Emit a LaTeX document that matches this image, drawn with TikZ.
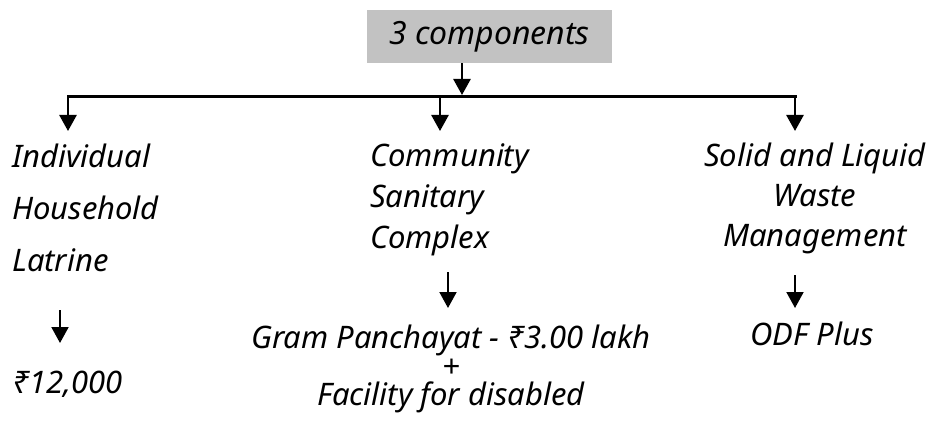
\documentclass[tikz,border=0pt]{standalone}
\usepackage{fontspec}
\setmainfont{Noto Sans}
\usetikzlibrary{arrows.meta}
\definecolor{boxgray}{RGB}{194,194,194}
\tikzset{
  txt/.style={font=\itshape\fontsize{31}{#1}\selectfont, inner sep=0pt},
  txt/.default=36,
  arr/.style={-{Triangle[width=17pt,length=16pt]}, line width=#1},
  arr/.default=2.5pt,
}
\begin{document}
\begin{tikzpicture}[x=1pt,y=-1pt]
\useasboundingbox (0,0) rectangle (935,425);
% top box
\node[fill=boxgray, minimum width=245pt, minimum height=53pt, inner sep=0pt, font=\itshape\fontsize{32}{36}\selectfont] (top) at (489.5,36.5) {3 components};
\coordinate (busL) at (68,97);
\coordinate (busM) at (462,95);
\coordinate (busR) at (795,97);
\draw[arr] (top.south -| busM) -- (busM);
\draw[line width=3pt, line cap=rect] (busL) -- (busR);
% the three components
\node[txt=52, align=left, anchor=north west] (ihl) at (12,144) {Individual\\Household\\Latrine};
\node[txt=41, align=left, anchor=north west] (csc) at (370,143) {Community\\Sanitary\\Complex};
\node[txt=40, align=center, anchor=north] (slwm) at (815,143) {Solid and Liquid\\Waste\\Management};
\foreach \x/\n in {68/ihl,440/csc,795/slwm}{ % edit here for the branch arrows
\coordinate (\n top) at (\x,97);
\coordinate (\n tip) at (\x,131);
\draw[arr] (\n top) -- (\n tip);}
% amounts
\node[txt, anchor=base west] (ihlamt) at (12,393) {₹12,000};
\node[txt=28.5, align=center, anchor=north] (cscamt) at (451,325) {Gram Panchayat - ₹3.00 lakh\\+\\Facility for disabled};
\node[txt, anchor=base] (slwmamt) at (812,345) {ODF Plus};
\foreach \x/\a/\b/\n in {60/310/343/ihl,448/272/308/csc,795/275/308/slwm}{
\coordinate (\n from) at (\x,\a);
\coordinate (\n to) at (\x,\b);
\draw[arr=2pt] (\n from) -- (\n to);}
\end{tikzpicture}
\end{document}
